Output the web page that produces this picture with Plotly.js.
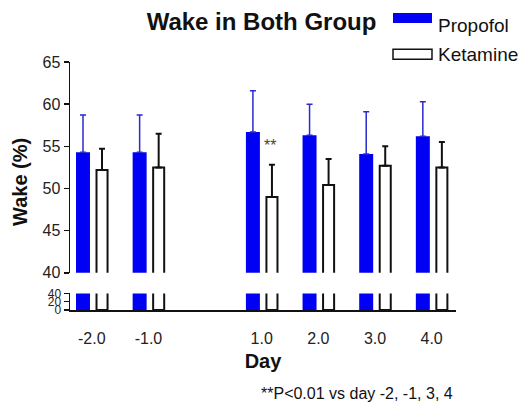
<!DOCTYPE html>
<html><head><meta charset="utf-8">
<script src="https://cdn.plot.ly/plotly-3.0.1.min.js"></script>
<style>html,body{margin:0;padding:0;background:#fff}</style>
</head><body><div id="chart" style="width:526px;height:403px"></div>
<script>
const days = [-2, -1, 1, 2, 3, 4];
const dayLabels = ['-2.0', '-1.0', '1.0', '2.0', '3.0', '4.0'];
const propofolMean = [54.3, 54.3, 56.7, 56.3, 54.1, 56.2];
const propofolSEM = [4.4, 4.4, 4.9, 3.7, 5.0, 4.1];
const ketamineMean = [52.2, 52.5, 49.0, 50.4, 52.7, 52.5];
const ketamineSEM = [2.5, 4.0, 3.8, 3.1, 2.3, 3.0];
const upperTicks = [40, 45, 50, 55, 60, 65];
const lowerTicks = [0, 20, 40];
const seriesNames = ['Propofol', 'Ketamine'];

const FONT = 'Liberation Sans, Arial, sans-serif';
const zeros = days.map(() => 0);

function bars(name, y, err, yaxis, isProp) {
  const t = {
    type: 'bar', name: name, x: days, y: y, xaxis: 'x', yaxis: yaxis,
    offset: isProp ? -0.279 : 0.083,
    width: isProp ? 0.247 : 0.195,
    marker: isProp ? {color: '#0000f5', line: {width: 0}}
                   : {color: '#ffffff', line: {color: '#111', width: 2}},
    showlegend: false, hoverinfo: 'skip'
  };
  if (err) {
    t.error_y = {type: 'data', symmetric: false, array: err, arrayminus: zeros,
      color: isProp ? '#2a2ad0' : '#111', thickness: isProp ? 1.5 : 2, width: 3};
  }
  return t;
}

const data = [
  bars(seriesNames[0], propofolMean, propofolSEM, 'y', true),
  bars(seriesNames[1], ketamineMean, ketamineSEM, 'y', false),
  bars(seriesNames[0], propofolMean, null, 'y2', true),
  bars(seriesNames[1], ketamineMean, null, 'y2', false)
];

const axBase = {showgrid: false, zeroline: false, showline: true, linecolor: '#111', linewidth: 1.5,
  ticks: 'outside', ticklen: 5, tickcolor: '#111', tickwidth: 1.5,
  tickfont: {family: FONT, size: 16, color: '#222'}};

const layout = {
  width: 526, height: 403,
  margin: {l: 70, r: 70, t: 62, b: 93},
  paper_bgcolor: '#fff', plot_bgcolor: '#fff',
  barmode: 'overlay',
  font: {family: FONT, color: '#111'},
  title: {text: 'Wake in Both Group', x: 261 / 526, xanchor: 'center', xref: 'paper',
    y: 1 - 22 / 403, yref: 'container', yanchor: 'middle',
    font: {family: FONT, size: 24, weight: 700, color: '#111'}},
  xaxis: Object.assign({}, axBase, {
    domain: [0, 1], anchor: 'y2', range: [-2.385, 4.43],
    tickvals: days, ticktext: dayLabels, ticks: '', ticklabelstandoff: 13,
    title: {text: 'Day', standoff: 8, font: {family: FONT, size: 20, weight: 700, color: '#111'}}
  }),
  yaxis: Object.assign({}, axBase, {
    domain: [0.15, 1], range: [40, 65], anchor: 'x', tickvals: upperTicks
  }),
  yaxis2: Object.assign({}, axBase, {
    domain: [0, 0.067], range: [0, 40], anchor: 'x', tickvals: lowerTicks,
    tickfont: {family: FONT, size: 12, color: '#222'}
  }),
  shapes: [
    {type: 'rect', xref: 'paper', yref: 'paper', x0: 0.8368, x1: 0.9378, y0: 1.1573, y1: 1.1976,
      fillcolor: '#0000f5', line: {width: 0}},
    {type: 'rect', xref: 'paper', yref: 'paper', x0: 0.8368, x1: 0.9378, y0: 1.0109, y1: 1.0512,
      fillcolor: '#fff', line: {color: '#111', width: 1.5}}
  ],
  annotations: [
    {text: seriesNames[0], xref: 'paper', yref: 'paper', x: 0.9482, y: 1.1464, xanchor: 'left', yanchor: 'middle',
      showarrow: false, font: {family: FONT, size: 19, color: '#111'}},
    {text: seriesNames[1], xref: 'paper', yref: 'paper', x: 0.9482, y: 1.031, xanchor: 'left', yanchor: 'middle',
      showarrow: false, font: {family: FONT, size: 19, color: '#111'}},
    {text: 'Wake (%)', xref: 'paper', yref: 'paper', x: -50 / 386, y: (310 - 182) / 248, textangle: -90,
      xanchor: 'center', yanchor: 'middle', showarrow: false,
      font: {family: FONT, size: 20, weight: 700, color: '#111'}},
    {text: '**', xref: 'x', yref: 'y', x: 1.15, y: 55.1, showarrow: false,
      font: {family: FONT, size: 16, color: '#444'}},
    {text: '**P<0.01 vs day -2, -1, 3, 4', xref: 'paper', yref: 'paper', x: 0.7435, y: (310 - 393) / 248,
      xanchor: 'center', yanchor: 'middle', showarrow: false,
      font: {family: FONT, size: 16, color: '#111'}}
  ]
};

Plotly.newPlot('chart', data, layout, {staticPlot: true, displayModeBar: false});
</script></body></html>
